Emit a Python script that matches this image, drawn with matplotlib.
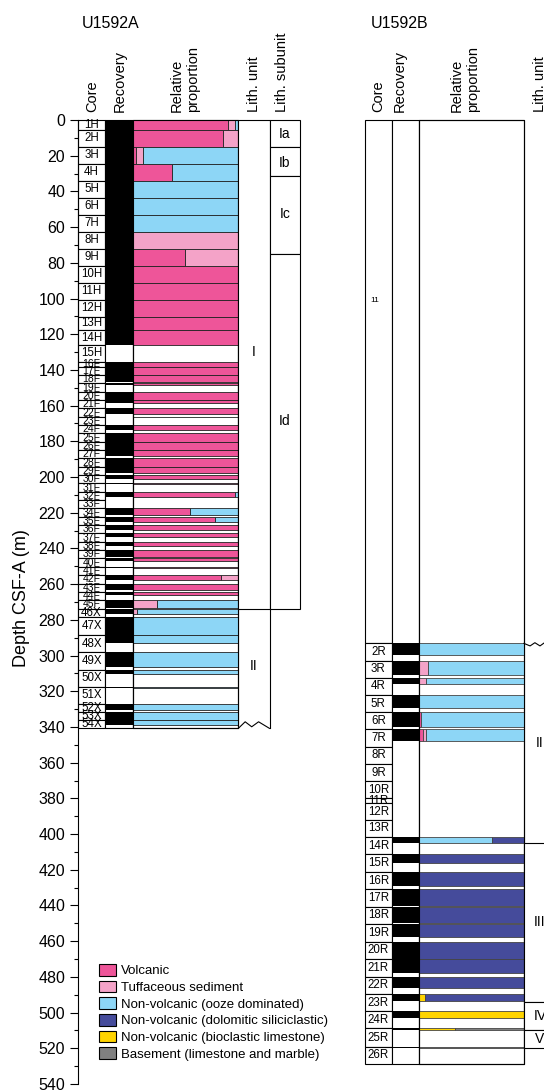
import numpy as np
import matplotlib.pyplot as plt
from matplotlib.patches import Patch
from matplotlib.ticker import MultipleLocator

plt.rcParams['font.family'] = ['Liberation Sans', 'DejaVu Sans']

# ---------------------------
# Daten Loch U1592A
# ---------------------------
a_cores = ['1H', '2H', '3H', '4H', '5H', '6H', '7H', '8H', '9H', '10H', '11H', '12H', '13H', '14H', '15H',
           '16F', '17F', '18F', '19F', '20F', '21F', '22F', '23F', '24F', '25F', '26F', '27F', '28F', '29F',
           '30F', '31F', '32F', '33F', '34F', '35F', '36F', '37F', '38F', '39F', '40F', '41F', '42F', '43F',
           '44F', '45F', '46X', '47X', '48X', '49X', '50X', '51X', '52X', '53X', '54X']
a_top = [0, 5.6, 15.1, 24.6, 34.1, 43.6, 53.1, 62.6, 72.1, 81.6, 91.1, 100.6, 110.1, 117.6, 126.1,
         135.3, 138.2, 142.9, 147.5, 152.2, 156.9, 161.6, 166.2, 170.9, 175.6, 180.2, 184.9, 189.6, 194.3,
         198.9, 203.6, 208.3, 212.9, 217.6, 222.3, 227.0, 231.6, 236.3, 241.0, 245.6, 250.3, 255.0, 259.7,
         264.3, 269.0, 273.7, 278.3, 288.5, 298.2, 308.1, 317.4, 327.3, 331.4, 336.0]
a_end = 340.8
a_rec = [5.6, 9.5, 9.5, 9.5, 9.5, 9.5, 9.5, 9.5, 9.5, 9.5, 9.5, 9.5, 7.5, 8.5, 0,
         2.9, 4.7, 4.0, 0.8, 4.6, 1.6, 3.0, 0.3, 2.8, 4.6, 4.4, 3.2, 4.6, 3.6,
         2.2, 0.4, 2.8, 0.0, 3.5, 2.8, 2.4, 1.8, 2.4, 3.7, 1.2, 0.4, 2.8, 3.3,
         1.9, 4.1, 2.8, 10.0, 4.7, 8.0, 2.2, 1.0, 3.2, 4.6, 3.0]
a_volc = [0.905, 0.86, 0.03, 0.37, 0, 0, 0, 0, 0.50, 1, 1, 1, 1, 1, 0,
          1, 1, 1, 1, 1, 1, 1, 1, 1, 1, 1, 1, 1, 1,
          1, 1, 0.97, 1, 0.54, 0.78, 1, 1, 1, 1, 1, 1, 0.84, 1,
          1, 0, 0, 0, 0, 0, 0, 0, 0, 0, 0]
a_tuff = [0.065, 0.14, 0.07, 0, 0, 0, 0, 1, 0.50, 0, 0, 0, 0, 0, 0,
          0, 0, 0, 0, 0, 0, 0, 0, 0, 0, 0, 0, 0, 0,
          0, 0, 0, 0, 0, 0, 0, 0, 0, 0, 0, 0, 0.16, 0,
          0, 0.23, 0.04, 0, 0, 0, 0, 0, 0, 0, 0]
a_ooze = [0.03, 0, 0.90, 0.63, 1, 1, 1, 0, 0, 0, 0, 0, 0, 0, 0,
          0, 0, 0, 0, 0, 0, 0, 0, 0, 0, 0, 0, 0, 0,
          0, 0, 0.03, 0, 0.46, 0.22, 0, 0, 0, 0, 0, 0, 0, 0,
          0, 0.77, 0.96, 1, 1, 1, 1, 1, 1, 1, 1]

a_units = ['I', 'II']
a_unit_top = [0, 273.7]
a_unit_bot = [273.7, 340.8]
a_unit_lbl = [130, 306]
a_subunits = ['Ia', 'Ib', 'Ic', 'Id']
a_sub_top = [0, 15.3, 31.4, 75.2]
a_sub_bot = [15.3, 31.4, 75.2, 273.7]
a_sub_lbl = [7.8, 24.0, 52.5, 168.5]

# ---------------------------
# Daten Loch U1592B
# ---------------------------
b_drilled = '11'
b_drilled_bot = 293.2
b_cores = ['2R', '3R', '4R', '5R', '6R', '7R', '8R', '9R', '10R', '11R', '12R', '13R', '14R',
           '15R', '16R', '17R', '18R', '19R', '20R', '21R', '22R', '23R', '24R', '25R', '26R']
b_top = [293.2, 302.9, 312.5, 322.1, 331.8, 341.4, 351.1, 360.7, 370.4, 380.0, 382.6, 392.2, 401.5,
         411.4, 421.1, 431.0, 440.7, 450.4, 460.3, 470.0, 479.9, 489.6, 499.2, 508.9, 519.2]
b_end = 528.8
b_rec = [6.5, 8.0, 3.2, 7.5, 8.1, 6.5, 0, 0, 0, 0, 0, 0, 3.4,
         5.0, 8.0, 9.4, 8.9, 7.1, 9.7, 7.6, 6.5, 3.9, 3.7, 1.0, 0.9]
b_volc = [0, 0, 0, 0, 0.015, 0.04, 0, 0, 0, 0, 0, 0, 0,
          0, 0, 0, 0, 0, 0, 0, 0, 0, 0, 0, 0]
b_tuff = [0, 0.086, 0.064, 0, 0, 0.02, 0, 0, 0, 0, 0, 0, 0,
          0, 0, 0, 0, 0, 0, 0, 0, 0, 0, 0, 0]
b_ooze = [1, 0.914, 0.936, 1, 0.985, 0.94, 0, 0, 0, 0, 0, 0, 0.69,
          0, 0, 0, 0, 0, 0, 0, 0, 0, 0, 0, 0]
b_lime = [0, 0, 0, 0, 0, 0, 0, 0, 0, 0, 0, 0, 0,
          0, 0, 0, 0, 0, 0, 0, 0, 0.054, 1, 0.34, 0]
b_dolo = [0, 0, 0, 0, 0, 0, 0, 0, 0, 0, 0, 0, 0.31,
          1, 1, 1, 1, 1, 1, 1, 1, 0.946, 0, 0, 0]
b_base = [0, 0, 0, 0, 0, 0, 0, 0, 0, 0, 0, 0, 0,
          0, 0, 0, 0, 0, 0, 0, 0, 0, 0, 0.66, 1]

b_units = ['II', 'III', 'IV', 'V']
b_unit_top = [293.2, 404.8, 493.8, 509.6]
b_unit_bot = [404.8, 493.8, 509.6, 520.0]

# Farben / Legende
c_volc, c_tuff, c_ooze = '#EE5599', '#F4A3C8', '#8DD6F6'
c_dolo, c_lime, c_base = '#454B9B', '#FFD400', '#808080'
leg_labels = ['Volcanic', 'Tuffaceous sediment', 'Non-volcanic (ooze dominated)',
              'Non-volcanic (dolomitic siliciclastic)', 'Non-volcanic (bioclastic limestone)',
              'Basement (limestone and marble)']
leg_colors = [c_volc, c_tuff, c_ooze, c_dolo, c_lime, c_base]

# ---------------------------
# Layout (Pixel)
# ---------------------------
W, H = 544, 1090
Y0, Y540 = 120, 1084
fig = plt.figure(figsize=(W / 100, H / 100), dpi=100)


def spalte(x0, x1, achse=False):
    ax = fig.add_axes([x0 / W, (H - Y540) / H, (x1 - x0) / W, (Y540 - Y0) / H])
    ax.set_xlim(0, 1)
    ax.set_ylim(540, 0)
    if not achse:
        ax.axis('off')
    return ax


def rahmen(ax, top, bot, fc='white', lw=0.8):
    ax.barh(top, 1, height=np.asarray(bot) - np.asarray(top), left=0, align='edge',
            facecolor=fc, edgecolor='k', linewidth=lw, clip_on=False)


def kerne(ax, names, top, end):
    top = np.asarray(top)
    bot = np.append(top[1:], end)
    rahmen(ax, top, bot)
    for n, t, b in zip(names, top, bot):
        fs = 7.5 if n.endswith('F') else 8.3
        ax.text(0.5, (t + b) / 2, n, ha='center', va='center', fontsize=fs, clip_on=False)


def gewinn(ax, top, rec, end):
    rahmen(ax, [0], [end])
    top, rec = np.asarray(top), np.asarray(rec)
    m = rec > 0
    ax.barh(top[m], 1, height=rec[m], left=0, align='edge', color='k', linewidth=0)


def anteile(ax, top, rec, end, fracs, colors, ec='#222222'):
    rahmen(ax, [0], [end])
    top, rec = np.asarray(top), np.asarray(rec)
    cum = np.zeros(len(top))
    for f, c in zip(fracs, colors):
        f = np.asarray(f, dtype=float)
        m = (f > 0) & (rec > 0)
        ax.barh(top[m], f[m], height=rec[m], left=cum[m], align='edge', facecolor=c,
                edgecolor=ec, linewidth=0.6, clip_on=False)
        cum = cum + f
    rahmen(ax, [0], [end], fc='none')


# --- U1592A ---
axA_core = spalte(78.3, 104.8, achse=True)
kerne(axA_core, a_cores, a_top, a_end)
for s in ['top', 'right', 'bottom']:
    axA_core.spines[s].set_visible(False)
axA_core.spines['left'].set_linewidth(0.8)
axA_core.set_xticks([])
axA_core.yaxis.set_major_locator(MultipleLocator(20))
axA_core.yaxis.set_minor_locator(MultipleLocator(10))
axA_core.tick_params(axis='y', which='major', length=6, width=0.8, pad=3.5, labelsize=11.5)
axA_core.tick_params(axis='y', which='minor', length=3, width=0.8)

axA_rec = spalte(104.8, 132.5)
gewinn(axA_rec, a_top, a_rec, a_end)

axA_prop = spalte(132.5, 238.3)
anteile(axA_prop, a_top, a_rec, a_end, [a_volc, a_tuff, a_ooze], [c_volc, c_tuff, c_ooze])

axA_unit = spalte(238.3, 269.5)
rahmen(axA_unit, a_unit_top[:1], a_unit_bot[:1])
axA_unit.plot([1, 1], [a_unit_top[1], a_unit_bot[1]], color='k', lw=0.8, clip_on=False)
zz_x = [0, 0.22, 0.43, 0.65, 1.0]
zz_d = [0, -3.7, -0.9, -3.7, 0]
axA_unit.plot(zz_x, a_unit_bot[1] + np.array(zz_d), color='k', lw=0.8, clip_on=False)
for u, d in zip(a_units, a_unit_lbl):
    axA_unit.text(0.5, d, u, ha='center', va='center', fontsize=10)

axA_sub = spalte(269.5, 300.3)
rahmen(axA_sub, a_sub_top, a_sub_bot)
for u, d in zip(a_subunits, a_sub_lbl):
    axA_sub.text(0.5, d, u, ha='center', va='center', fontsize=10)

# --- U1592B ---
axB_core = spalte(365.0, 391.8)
rahmen(axB_core, [0], [b_drilled_bot])
axB_core.text(0.38, 101, b_drilled, ha='center', va='center', fontsize=6)
kerne(axB_core, b_cores, b_top, b_end)

axB_rec = spalte(391.8, 419.3)
gewinn(axB_rec, b_top, b_rec, b_end)

axB_prop = spalte(419.3, 524.0)
anteile(axB_prop, b_top, b_rec, b_end,
        [b_volc, b_tuff, b_ooze, b_lime, b_dolo, b_base],
        [c_volc, c_tuff, c_ooze, c_lime, c_dolo, c_base], ec='#444444')

axB_unit = spalte(524.0, 556.0)
rahmen(axB_unit, b_unit_top[1:], b_unit_bot[1:])
zzb_x = [0, 0.19, 0.34, 0.5, 0.64, 0.78, 1.0]
zzb_d = [0, 1.4, -0.4, 1.4, -0.4, 1.4, 0]
axB_unit.plot(zzb_x, b_unit_top[0] + np.array(zzb_d), color='k', lw=0.8, clip_on=False)
for u, t, b in zip(b_units, b_unit_top, b_unit_bot):
    axB_unit.text(0.5, (t + b) / 2, u, ha='center', va='center', fontsize=10)

# ---------------------------
# Beschriftung
# ---------------------------
def fpx(x, y):
    return x / W, 1 - y / H


kopf_A = [('Core', 92), ('Recovery', 120), ('Relative\nproportion', 185),
          ('Lith. unit', 253.5), ('Lith. subunit', 281.5)]
kopf_B = [('Core', 378), ('Recovery', 400), ('Relative\nproportion', 465), ('Lith. unit', 540)]
for txt, x in kopf_A + kopf_B:
    fig.text(*fpx(x, 112), txt, rotation=90, rotation_mode='anchor', ha='left', va='center',
             multialignment='left', fontsize=10.5)

fig.text(*fpx(82, 23), 'U1592A', ha='left', va='center', fontsize=11.5)
fig.text(*fpx(371, 23), 'U1592B', ha='left', va='center', fontsize=11.5)
fig.text(*fpx(22, 598), 'Depth CSF-A (m)', rotation=90, ha='center', va='center', fontsize=13)

handles = [Patch(facecolor=c, edgecolor='k', linewidth=0.8, label=l) for c, l in zip(leg_colors, leg_labels)]
fig.legend(handles=handles, loc='upper left', bbox_to_anchor=fpx(99, 964), frameon=False,
           fontsize=9.5, handlelength=1.29, handleheight=0.98, handletextpad=0.36,
           labelspacing=0.25, borderpad=0, borderaxespad=0)

fig.savefig('out.png', dpi=100)
